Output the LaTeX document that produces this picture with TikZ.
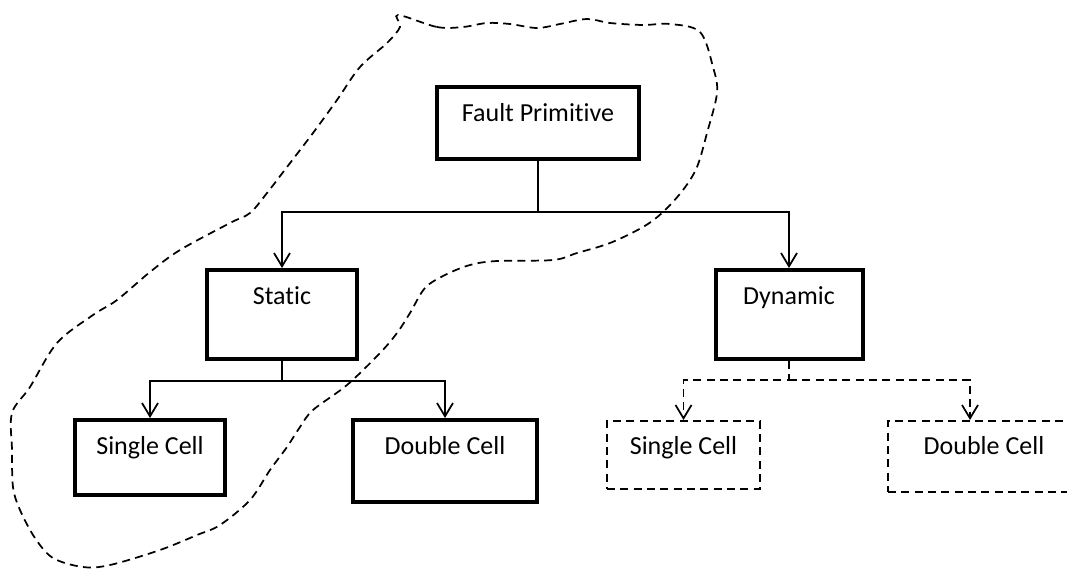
\documentclass[tikz,border=0pt]{standalone}
\usepackage{fontspec}
\setmainfont{Carlito}[Ligatures=NoCommon]
\usetikzlibrary{arrows.meta}

\begin{document}
\begin{tikzpicture}[x=0.75pt,y=-0.75pt,line join=miter,
  box/.style={draw,line width=3pt,inner sep=0pt,anchor=north,text height=25.5pt,
    font=\fontsize{19.5}{23}\selectfont},
  dbox/.style={box,line width=1.3pt,dash pattern=on 6pt off 4pt},
  link/.style={line width=1.3pt,-{Straight Barb[length=10pt,width=12pt,line width=1.3pt]}},
  dlink/.style={link,dash pattern=on 6pt off 4pt}]
  \useasboundingbox (0,0) rectangle (1067,568);
  \clip (0,0) rectangle (1067,568);

  % The root and the two fault classes.
  \node[box,minimum width=151.5pt,text depth=28.5pt] (fp) at (538,85) {Fault Primitive};
  \node[box,minimum width=112.5pt,text depth=41.25pt] (st) at (282,268) {Static};
  \node[box,minimum width=110.25pt,text depth=41.25pt] (dy) at (789,268) {Dynamic};

  % Cell level under each class; the dynamic branch is only sketched.
  \node[box,minimum width=112.5pt,text depth=30.75pt] (ss) at (150,418) {Single Cell};
  \node[box,minimum width=138pt,text depth=36pt] (sd) at (445,418) {Double Cell};
  \node[dbox,minimum width=114.75pt,text depth=25.5pt] (ds) at (683.5,420) {Single Cell};
  \node[dbox,minimum width=144pt,text depth=27.75pt] (dd) at (984,420) {Double Cell};

  % Bus points where the trees split.
  \coordinate (fpbus) at (538,212);
  \coordinate (stbus) at (282,381);
  \coordinate (dybus) at (789,380);

  \draw[line width=1.3pt] (fp.south) -- (fpbus);
  \draw[link] (fpbus) -| (st.north);
  \draw[link] (fpbus) -| (dy.north);

  \draw[line width=1.3pt] (st.south) -- (stbus);
  \draw[link] (stbus) -| (ss.north);
  \draw[link] (stbus) -| (sd.north);

  \draw[dlink] (dy.south) -- (dybus) -| (ds.north);
  \draw[dlink] (dybus) -| ([xshift=-10.5pt]dd.north);

  % The dashed outline round the static branch.
  \draw[line width=1.3pt,dash pattern=on 6pt off 4pt] plot[smooth cycle,tension=0.55] coordinates {
    (398,15) (437,27) (463,27) (487,23) (510,24) (537,28) (560,24) (587,19) (610,23)
    (643,25) (670,24) (700,32) (713,67) (717,93) (707,133) (697,167) (683,190)
    (663,212) (643,227) (610,243) (577,253) (553,260) (497,261) (470,265) (445,275)
    (425,288) (410,313) (397,333) (380,353) (347,385) (313,410) (300,427) (287,447)
    (270,470) (250,500) (220,525) (197,535) (160,550) (110,565) (83,567) (53,558)
    (35,538) (20,510) (13,487) (12,450) (12,413) (30,387) (57,343) (93,315)
    (117,300) (150,272) (180,250) (230,223) (250,213) (267,193) (287,167) (313,133)
    (337,100) (360,67) (387,43) (400,27)};
\end{tikzpicture}
\end{document}
